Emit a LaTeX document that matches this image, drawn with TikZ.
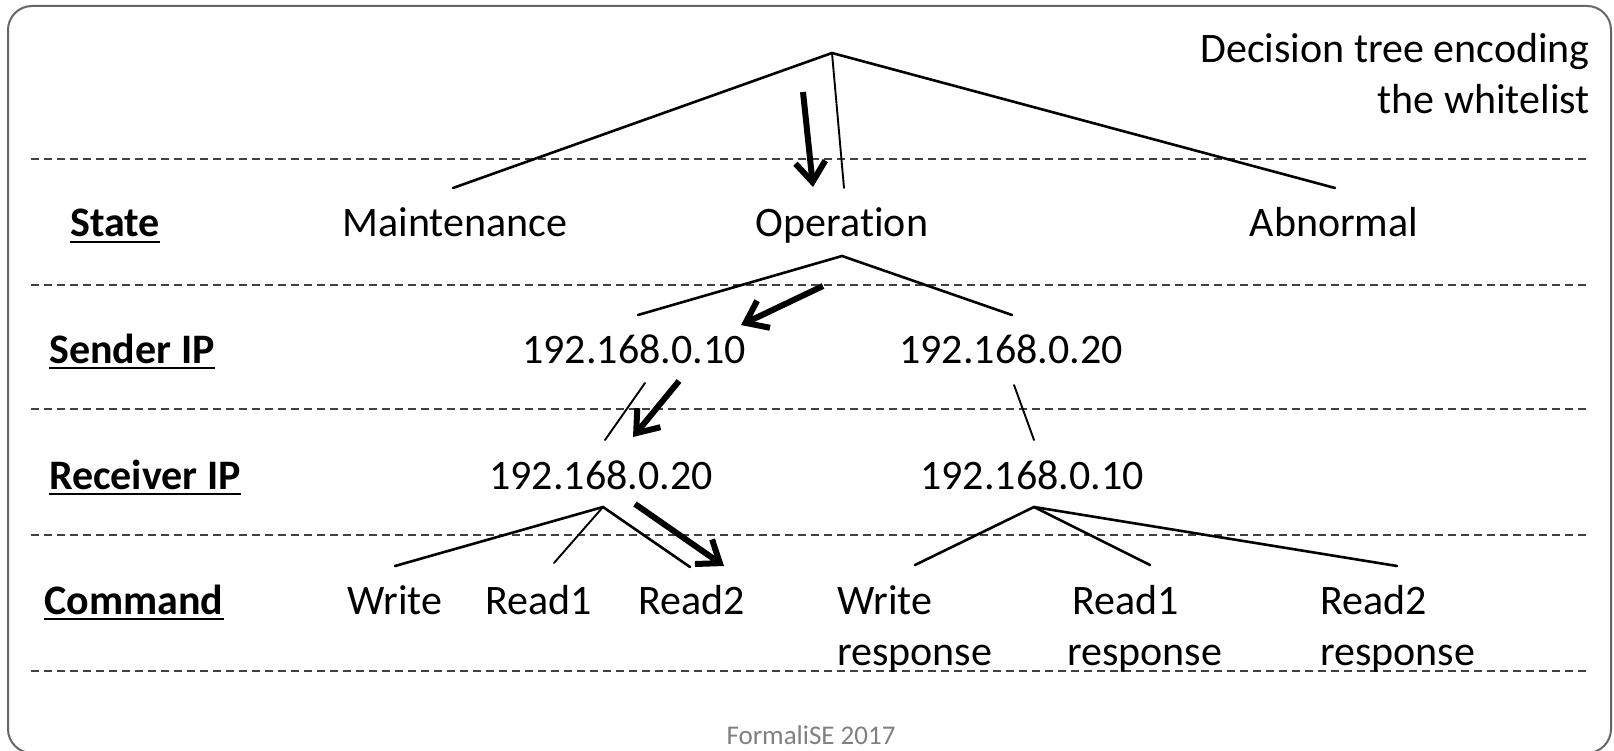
\documentclass[tikz,border=0pt]{standalone}
\usepackage{fontspec}
\setmainfont{Carlito}[Ligatures=NoCommon]
\usetikzlibrary{arrows.meta}
\begin{document}
\begin{tikzpicture}[x=1pt,y=-1pt,
  lbl/.style={inner sep=0pt, anchor=base, font=\fontsize{42}{50}\selectfont},
  lblw/.style={lbl, anchor=base west},
  head/.style={lbl, font=\fontsize{42}{50}\selectfont\bfseries},
  branch/.style={line width=2.6pt, line cap=round},
  thinbranch/.style={line width=1.9pt, line cap=round},
  pick/.style={line width=6pt, -{Straight Barb[length=20pt,width=30pt,line width=6pt]}},
  level/.style={line width=1.6pt, dash pattern=on 8pt off 5pt, draw=black!75},
  uline/.style={line width=2.2pt},
  ]
\useasboundingbox (0,0) rectangle (1614,751);
% outer frame
\draw[line width=2pt, draw=black!60, rounded corners=24pt] (8,6) rectangle (1611,753);

% level separators
\foreach \yy in {159,285,409,535,671}
  \draw[level] (31,\yy) -- (1590,\yy);

% title
\node[lbl, anchor=base east] (title1) at (1590,63) {Decision tree encoding};
\node[lbl, anchor=base east] (title2) at (1590,114) {the whitelist};

% row headings
\node[head] (hState) at (115,237) {State};
\node[head] (hSender) at (132,363) {Sender IP};
\node[head] (hRecv) at (145,489) {Receiver IP};
\node[head] (hCmd) at (134,614) {Command};
\foreach \h in {hState,hSender,hRecv,hCmd}
  \draw[uline] ([yshift=-5pt]\h.base west) -- ([yshift=-5pt]\h.base east);

% states
\node[lbl] (maint) at (455,237) {Maintenance};
\node[lbl] (oper) at (842,237) {Operation};
\node[lbl] (abn) at (1334,237) {Abnormal};

% sender addresses
\node[lbl] (s10) at (634,363) {192.168.0.10};
\node[lbl] (s20) at (1011,363) {192.168.0.20};

% receiver addresses
\node[lbl] (r20) at (601,489) {192.168.0.20};
\node[lbl] (r10) at (1032,489) {192.168.0.10};

% commands
\node[lbl] (cW) at (395,614) {Write};
\node[lbl] (cR1) at (539,614) {Read1};
\node[lbl] (cR2) at (692,614) {Read2};
\node[lblw] (cWr) at (837,614) {Write};
\node[lblw] (cWr2) at (837,665) {response};
\node[lblw] (cR1r) at (1072,614) {Read1};
\node[lblw] (cR1r2) at (1067,665) {response};
\node[lblw] (cR2r) at (1320,614) {Read2};
\node[lblw] (cR2r2) at (1320,665) {response};

% footer
\node[inner sep=0pt, anchor=base, font=\fontsize{27}{32}\selectfont, text=black!50] (foot) at (811,744) {FormaliSE 2017};

% branch points and leaf ends
\coordinate (root) at (832,53);
\coordinate (maintT) at (453,188);
\coordinate (operT) at (844,188);
\coordinate (abnT) at (1335,188);

\coordinate (operB) at (842,256);
\coordinate (s10T) at (638,315);
\coordinate (s20T) at (1012,315);

\coordinate (s10B) at (645,383);
\coordinate (r20T) at (605,440);
\coordinate (s20B) at (1014,385);
\coordinate (r10T) at (1034,440);

\coordinate (r20B) at (603,507);
\coordinate (cWT) at (395,566);
\coordinate (cR1T) at (554,563);
\coordinate (cR2T) at (690,567);

\coordinate (r10B) at (1034,507);
\coordinate (cWrT) at (915,565);
\coordinate (cR1rT) at (1150,565);
\coordinate (cR2rT) at (1397,566);

% tree branches
\draw[branch] (maintT) -- (root) -- (abnT);
\draw[thinbranch] (root) -- (operT);
\draw[branch] (s10T) -- (operB) -- (s20T);
\draw[thinbranch] (s10B) -- (r20T);
\draw[thinbranch] (s20B) -- (r10T);
\draw[branch] (cWT) -- (r20B) -- (cR2T);
\draw[thinbranch] (r20B) -- (cR1T);
\draw[branch] (cWrT) -- (r10B) -- (cR2rT);
\draw[branch] (r10B) -- (cR1rT);

% path taken through the tree
\coordinate (p1a) at (803,92);  \coordinate (p1b) at (813,187);
\coordinate (p2a) at (823,286); \coordinate (p2b) at (741,325);
\coordinate (p3a) at (679,381); \coordinate (p3b) at (633,437);
\coordinate (p4a) at (635,504); \coordinate (p4b) at (724,566);
\draw[pick] (p1a) -- (p1b);
\draw[pick] (p2a) -- (p2b);
\draw[pick] (p3a) -- (p3b);
\draw[pick] (p4a) -- (p4b);
\end{tikzpicture}
\end{document}
